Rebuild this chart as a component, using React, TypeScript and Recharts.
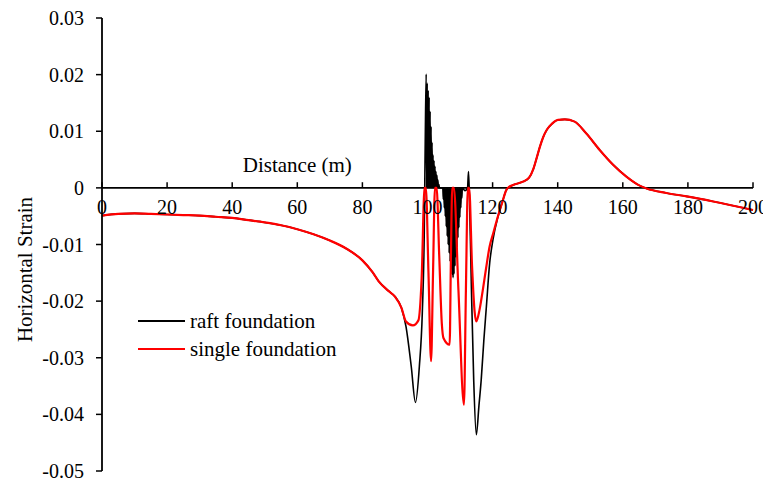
import React from 'react';
import {
    LineChart,
    Line,
    XAxis,
    YAxis,
    ReferenceLine,
    ReferenceDot,
    Legend,
    Label,
} from 'recharts';

const FONT = '"Liberation Serif", "Times New Roman", serif';

const xLabel = 'Distance (m)';
const yLabel = 'Horizontal Strain';
const xTicks = [0, 20, 40, 60, 80, 100, 120, 140, 160, 180, 200];
const yTicks = [0.03, 0.02, 0.01, 0, -0.01, -0.02, -0.03, -0.04, -0.05];

// both curves share the ends of the profile
const leftDistance = [0, 5, 10, 15, 20, 25, 30, 35, 40, 45, 50, 55, 60, 65, 70, 75, 80, 83, 85, 88, 90, 92];
const leftStrain = [
    -0.0049, -0.0046, -0.0045, -0.0046, -0.0047, -0.0048, -0.0049, -0.0051, -0.0053, -0.0057, -0.0061,
    -0.0066, -0.0073, -0.0082, -0.0093, -0.0107, -0.0128, -0.0148, -0.0165, -0.0182, -0.0192, -0.0212,
];
const rightDistance = [
    123, 124.2, 124.7, 126.3, 129.3, 131.2, 132.5, 133.5, 134.5, 135.5, 136.7, 138.2, 140.1, 142.2, 145.2,
    148.8, 152.9, 157, 161.1, 165.2, 167.3, 173.4, 179.6, 187.8, 200,
];
const rightStrain = [
    -0.0025, -0.0004, 0, 0.0005, 0.0011, 0.0018, 0.0033, 0.0052, 0.0072, 0.0089, 0.0103, 0.0113, 0.012,
    0.0121, 0.0117, 0.0096, 0.0067, 0.0041, 0.002, 0.0004, -0.0001, -0.0009, -0.0015, -0.0024, -0.0039,
];

// raft foundation, middle part (dense oscillation under the building)
const raftDistance = [
    93.4, 95, 96.3, 97.5, 98.4, 99.0, 99.3, 99.6,
    99.75, 99.9, 100.05, 100.2, 100.35, 100.5, 100.65, 100.8, 100.95, 101.1, 101.25, 101.4, 101.55, 101.7,
    101.85, 102.0, 102.15, 102.3, 102.45, 102.6, 102.75, 102.9, 103.05, 103.2, 103.35, 103.5, 103.65,
    104.2, 104.7,
    104.85, 105.0, 105.15, 105.3, 105.45, 105.6, 105.75, 105.9, 106.05, 106.2, 106.35, 106.5, 106.65, 106.8,
    106.95, 107.1, 107.25, 107.4, 107.55, 107.7, 107.85, 108.0, 108.15, 108.3, 108.45, 108.6, 108.75, 108.9,
    109.05, 109.2, 109.35, 109.5, 109.65, 109.8, 109.95, 110.1, 110.25, 110.4, 110.55, 110.7,
    111.5, 112.3, 112.6, 112.9, 113.5, 114.2, 115.0, 115.8, 116.5, 117.3, 118.1, 119.1, 120.1, 121.6,
];
const raftStrain = [
    -0.0245, -0.0315, -0.0379, -0.0315, -0.0221, -0.008, 0.008, 0.0201,
    0, 0.0185, 0, 0.0172, 0, 0.016, 0, 0.0135, 0, 0.0108, 0, 0.008, 0, 0.0058,
    0, 0.0048, 0, 0.0038, 0, 0.0029, 0, 0.0022, 0, 0.0014, 0, 0.0006, 0,
    0, 0,
    -0.002, 0, -0.0035, 0, -0.005, 0, -0.0068, 0, -0.0085, 0, -0.01, 0, -0.0115, 0,
    -0.013, 0, -0.0143, 0, -0.0153, 0, -0.0159, 0, -0.0152, 0, -0.0138, 0, -0.0122, 0,
    -0.0105, 0, -0.0088, 0, -0.007, 0, -0.0052, 0, -0.0035, 0, -0.0018, 0,
    -0.0005, 0, 0.0029, -0.002, -0.018, -0.034, -0.0436, -0.0385, -0.0339, -0.027, -0.0209, -0.0133, -0.0092, -0.0052,
];

// single foundation, middle part
const singleDistance = [
    93.4, 95.5, 97.2, 98.2, 99.1, 99.5, 100.3, 101.1, 101.7, 102.3, 102.8, 103.6, 104.4, 104.9, 106.8, 107.2,
    107.6, 108.1, 109.5, 111.2, 111.8, 112.4, 112.8, 113.7, 114.5, 115.0, 116.0, 117.0, 118.0, 119.1, 120.1, 121.6,
];
const singleStrain = [
    -0.0236, -0.0243, -0.0234, -0.016, 0, 0, -0.015, -0.0306, -0.015, 0, 0, -0.012, -0.024, -0.0265, -0.0277, -0.012,
    0, 0, -0.018, -0.0383, -0.018, 0, 0, -0.014, -0.022, -0.0236, -0.0215, -0.018, -0.0142, -0.0103, -0.0082, -0.0051,
];

const toRows = (d: number[], s: number[]) => d.map((distance, i) => ({ distance, strain: s[i] }));

const raftData = toRows(
    [...leftDistance, ...raftDistance, ...rightDistance],
    [...leftStrain, ...raftStrain, ...rightStrain],
);
const singleData = toRows(
    [...leftDistance, ...singleDistance, ...rightDistance],
    [...leftStrain, ...singleStrain, ...rightStrain],
);

const YTitle = (props: any) => {
    const { viewBox } = props;
    const cx = viewBox.x + 17;
    const cy = viewBox.y + viewBox.height / 2 + 25;
    return (
        <text
            x={cx}
            y={cy}
            transform={`rotate(-90 ${cx} ${cy})`}
            textAnchor="middle"
            dominantBaseline="central"
            fontFamily={FONT}
            fontSize={21}
            fill="#000"
        >
            {yLabel}
        </text>
    );
};

const LegendBox = (props: any) => (
    <div style={{ fontFamily: FONT, fontSize: 21, color: '#000' }}>
        {(props.payload || []).map((entry: any) => (
            <div key={entry.value} style={{ display: 'flex', alignItems: 'center', height: 28 }}>
                <svg width={47} height={4} style={{ marginRight: 5 }}>
                    <line x1={0} y1={2} x2={47} y2={2} stroke={entry.color} strokeWidth={2} />
                </svg>
                <span>{entry.value}</span>
            </div>
        ))}
    </div>
);

const labelStyle = { fill: '#000', fontSize: 20, fontFamily: FONT };

export default function App() {
    return (
        <LineChart width={763} height={473} margin={{ top: 10, right: 18, bottom: 10, left: 0 }}>
            <XAxis type="number" dataKey="distance" domain={[0, 200]} ticks={xTicks} hide />
            <YAxis
                type="number"
                domain={[-0.05, 0.03]}
                ticks={yTicks}
                interval={0}
                width={94}
                tickSize={6}
                tickMargin={12}
                allowDataOverflow
                axisLine={{ stroke: '#000', strokeWidth: 1.8 }}
                tickLine={{ stroke: '#000', strokeWidth: 1.5 }}
                tick={labelStyle}
                tickFormatter={(v: number) => String(v)}
            >
                <Label content={YTitle} />
            </YAxis>
            <ReferenceLine y={0} stroke="#000" strokeWidth={1.8} />
            {xTicks.map((t) => (
                <ReferenceLine
                    key={'tick' + t}
                    segment={[{ x: t, y: 0 }, { x: t, y: 0.001 }]}
                    stroke="#000"
                    strokeWidth={1.5}
                />
            ))}
            {xTicks.map((t) => (
                <ReferenceDot
                    key={'lab' + t}
                    x={t}
                    y={0}
                    r={0}
                    fill="none"
                    stroke="none"
                    label={{ value: String(t), position: 'bottom', offset: 12, ...labelStyle }}
                />
            ))}
            <ReferenceDot
                x={60}
                y={0}
                r={0}
                fill="none"
                stroke="none"
                label={{ value: xLabel, position: 'top', offset: 16, ...labelStyle, fontSize: 21 }}
            />
            <Legend
                layout="vertical"
                align="center"
                verticalAlign="middle"
                content={LegendBox}
                wrapperStyle={{ left: 130, top: 299, width: 'auto', height: 'auto' }}
            />
            <Line
                data={raftData}
                dataKey="strain"
                name="raft foundation"
                type="monotone"
                stroke="#000"
                strokeWidth={1.6}
                dot={false}
                isAnimationActive={false}
            />
            <Line
                data={singleData}
                dataKey="strain"
                name="single foundation"
                type="monotone"
                stroke="#ff0000"
                strokeWidth={2.2}
                dot={false}
                isAnimationActive={false}
            />
        </LineChart>
    );
}
